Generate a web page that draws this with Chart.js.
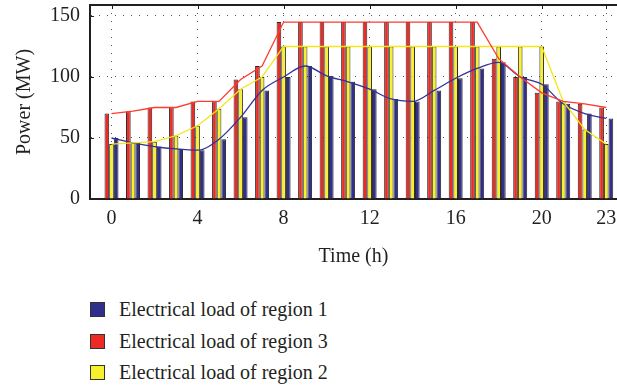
<!DOCTYPE html>
<html lang="en">
<head>
<meta charset="UTF-8">
<title>Electrical load by region</title>
<script src="https://cdn.jsdelivr.net/npm/chart.js"></script>
<style>
    body {
        margin: 0;
        background: #fff;
        font-family: "Liberation Serif", "Times New Roman", serif;
        color: #231f20;
    }
    .wrap {
        position: relative;
        width: 617px;
        height: 280px;
    }
    .legend {
        position: absolute;
        left: 90px;
        top: 294px;
    }
    .legend .item {
        display: flex;
        align-items: center;
        height: 31.5px;
        font-size: 20px;
    }
    .legend .box {
        width: 13px;
        height: 13px;
        border: 1px solid #333;
        margin-right: 14px;
    }
</style>
</head>
<body>
<div class="wrap"><canvas id="loadChart"></canvas></div>
<div class="legend" id="legend"></div>

<script>
    // hourly load, MW
    var hours = [0, 1, 2, 3, 4, 5, 6, 7, 8, 9, 10, 11, 12, 13, 14, 15, 16, 17, 18, 19, 20, 21, 22, 23];
    var region1 = [50, 46, 43, 41, 40, 49, 67, 89, 100, 109, 101, 96, 90, 82, 80, 89, 99, 107, 112, 100, 94, 78, 70, 66];
    var region2 = [45, 46, 47, 52, 60, 74, 90, 100, 125, 125, 125, 125, 125, 125, 125, 125, 125, 125, 125, 125, 125, 80, 57, 45];
    var region3 = [70, 72, 75, 75, 80, 80, 98, 109, 145, 145, 145, 145, 145, 145, 145, 145, 145, 145, 115, 100, 87, 80, 78, 75];
    var xTicks = [0, 4, 8, 12, 16, 20, 23];
    var yTicks = [0, 50, 100, 150];

    var serif = '"Liberation Serif", "Times New Roman", serif';
    var ink = '#231f20';

    function points(values) {
        return hours.map(function (h, i) { return { x: h, y: values[i] }; });
    }

    function bars(label, values, fill) {
        return {
            type: 'bar', label: label, data: points(values), order: 2,
            backgroundColor: fill, borderColor: '#2a2a2a', borderWidth: 1,
            categoryPercentage: 0.65, barPercentage: 1.0
        };
    }

    // smooth = true for the spline-like region 1 curve, straight segments otherwise
    function curve(values, color, smooth) {
        var ds = {
            type: 'line', data: points(values), order: 1,
            borderColor: color, borderWidth: 1.3, pointRadius: 0,
            tension: 0, fill: false
        };
        if (smooth) ds.cubicInterpolationMode = 'monotone';
        return ds;
    }

    // top edge of the box and the inward tick marks
    var frame = {
        id: 'frame',
        afterDraw: function (chart) {
            var ctx = chart.ctx, a = chart.chartArea;
            var x = chart.scales.x, y = chart.scales.y;
            ctx.save();
            ctx.strokeStyle = ink;
            ctx.lineWidth = 2;
            ctx.beginPath();
            ctx.moveTo(a.left, a.top);
            ctx.lineTo(a.right, a.top);
            ctx.stroke();
            ctx.lineWidth = 1;
            ctx.beginPath();
            xTicks.forEach(function (t) {
                var px = Math.round(x.getPixelForValue(t)) + 0.5;
                ctx.moveTo(px, a.top);
                ctx.lineTo(px, a.top + 4);
            });
            yTicks.forEach(function (t) {
                var py = Math.round(y.getPixelForValue(t)) + 0.5;
                ctx.moveTo(a.left, py);
                ctx.lineTo(a.left + 4, py);
            });
            ctx.stroke();
            ctx.restore();
        }
    };

    var ctx = document.getElementById('loadChart').getContext('2d');
    var loadChart = new Chart(ctx, {
        data: {
            datasets: [
                bars('Electrical load of region 3', region3, '#ee2a24'),
                bars('Electrical load of region 2', region2, '#f8ef2e'),
                bars('Electrical load of region 1', region1, '#312e8c'),
                curve(region3, '#ff3b30', false),
                curve(region2, '#f5e61a', false),
                curve(region1, '#34319b', true)
            ]
        },
        options: {
            responsive: true,
            maintainAspectRatio: false,
            animation: false,
            layout: { padding: { top: 5, right: 0, bottom: 0, left: 0 } },
            plugins: {
                legend: { display: false },
                tooltip: { enabled: false }
            },
            scales: {
                x: {
                    type: 'linear',
                    min: -1,
                    max: 23.5,
                    offset: false,
                    afterBuildTicks: function (s) { s.ticks = xTicks.map(function (v) { return { value: v }; }); },
                    afterFit: function (s) { s.height = 81; s.paddingLeft = 0; s.paddingRight = 0; },
                    grid: { color: '#555', lineWidth: 1, drawTicks: false, offset: false },
                    border: { color: ink, width: 2, dash: [1, 7] },
                    ticks: { padding: 8, color: ink, font: { family: serif, size: 20 }, maxRotation: 0, autoSkip: false },
                    title: {
                        display: true, text: 'Time (h)', color: ink,
                        font: { family: serif, size: 20 }, padding: { top: 0, bottom: 11 }
                    }
                },
                y: {
                    min: 0,
                    max: 159,
                    afterBuildTicks: function (s) { s.ticks = yTicks.map(function (v) { return { value: v }; }); },
                    afterFit: function (s) { s.width = 90; s.paddingTop = 0; s.paddingBottom = 0; },
                    grid: { color: '#555', lineWidth: 1, drawTicks: false },
                    border: { color: ink, width: 2, dash: [1, 7] },
                    ticks: { padding: 10, color: ink, font: { family: serif, size: 20 } },
                    title: {
                        display: true, text: 'Power (MW)', color: ink,
                        font: { family: serif, size: 20 }, padding: { top: 13, bottom: 0 }
                    }
                }
            }
        },
        plugins: [frame]
    });

    // legend rows, listed in the same order as the figure key
    var legendItems = [
        ['Electrical load of region 1', '#312e8c'],
        ['Electrical load of region 3', '#ee2a24'],
        ['Electrical load of region 2', '#f8ef2e']
    ];
    var legend = document.getElementById('legend');
    legendItems.forEach(function (item) {
        var row = document.createElement('div');
        row.className = 'item';
        var box = document.createElement('span');
        box.className = 'box';
        box.style.background = item[1];
        row.appendChild(box);
        row.appendChild(document.createTextNode(item[0]));
        legend.appendChild(row);
    });
</script>
</body>
</html>
